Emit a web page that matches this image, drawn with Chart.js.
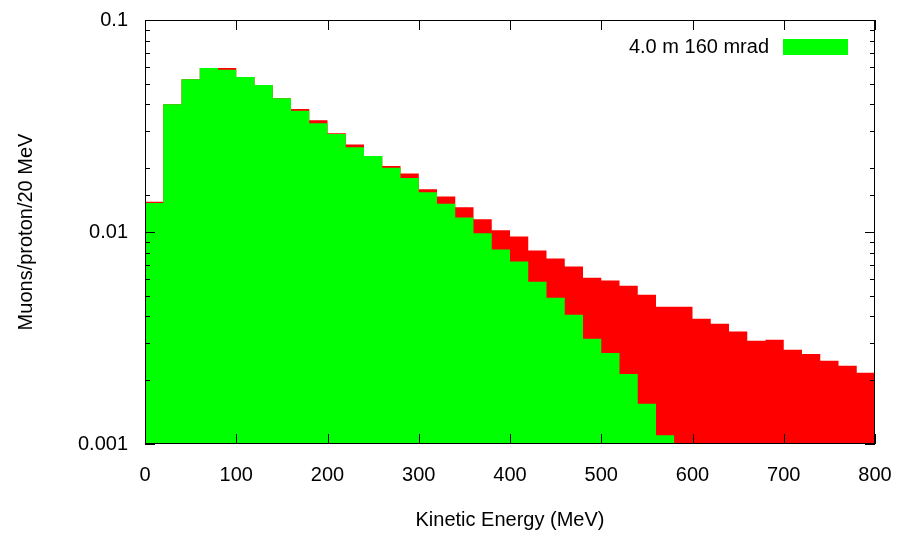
<!DOCTYPE html>
<html>
<head>
<title>Muon spectrum</title>
<style> body { margin: 0; background: #fff; } </style>
<script src="https://cdn.jsdelivr.net/npm/chart.js@4"></script>
</head>
<body>
<canvas id="muonChart" width="902" height="534"></canvas>
<script>
// bins are 20 MeV wide, starting at 0
let binWidth = 20;
let redValues = [0.0139, 0.0401, 0.0526, 0.0593, 0.0593, 0.0538, 0.0493, 0.0428, 0.0380, 0.0337,
                 0.0292, 0.0259, 0.0228, 0.0205, 0.0189, 0.0159, 0.0147, 0.0131, 0.0115, 0.0102,
                 0.00952, 0.00818, 0.00749, 0.00687, 0.00609, 0.00590, 0.00558, 0.00506, 0.00444, 0.00444,
                 0.00390, 0.00369, 0.00339, 0.00307, 0.00310, 0.00278, 0.00266, 0.00247, 0.00234, 0.00217];
let greenValues = [0.0137, 0.0401, 0.0526, 0.0593, 0.0582, 0.0538, 0.0493, 0.0428, 0.0373, 0.0326,
                   0.0290, 0.0251, 0.0228, 0.0201, 0.0180, 0.0154, 0.0136, 0.0117, 0.00987, 0.00827,
                   0.00725, 0.00583, 0.00490, 0.00407, 0.00314, 0.00269, 0.00214, 0.00155, 0.00110];
let legendLabel = '4.0 m 160 mrad';
let xTitle = 'Kinetic Energy (MeV)';
let yTitle = 'Muons/proton/20 MeV';
let yLabels = [0.001, 0.01, 0.1];

let font = { family: "'Liberation Sans', Arial, sans-serif", size: 20 };

function toSteps(values) {
  // one point on the left edge of each bin, plus one closing the last bin
  let pts = [];
  for (let i = 0; i < values.length; i++) pts.push({ x: i * binWidth, y: values[i] });
  pts.push({ x: values.length * binWidth, y: values[values.length - 1] });
  return pts;
}

function isDecade(v) {
  let l = Math.log10(v);
  return Math.abs(l - Math.round(l)) < 1e-9;
}

let frame = {
  id: 'frame',
  afterDatasetsDraw(chart) {
    let { ctx, chartArea: a, scales: { x, y } } = chart;
    ctx.save();
    ctx.strokeStyle = '#000';
    ctx.lineWidth = 1;
    ctx.beginPath();
    x.ticks.forEach(t => {
      let px = Math.round(x.getPixelForValue(t.value)) + 0.5;
      ctx.moveTo(px, a.bottom); ctx.lineTo(px, a.bottom - 10);
      ctx.moveTo(px, a.top); ctx.lineTo(px, a.top + 10);
    });
    y.ticks.forEach(t => {
      let len = isDecade(t.value) ? 10 : 5;
      let py = Math.round(y.getPixelForValue(t.value)) + 0.5;
      ctx.moveTo(a.left, py); ctx.lineTo(a.left + len, py);
      ctx.moveTo(a.right, py); ctx.lineTo(a.right - len, py);
    });
    ctx.stroke();
    ctx.strokeRect(a.left + 0.5, a.top + 0.5, a.width - 1, a.height - 1);

    // legend: text then colour box, top right
    ctx.font = font.size + 'px ' + font.family;
    ctx.fillStyle = '#000';
    ctx.textAlign = 'right';
    ctx.textBaseline = 'middle';
    ctx.fillText(legendLabel, a.right - 106, a.top + 27);
    ctx.fillStyle = '#00ff00';
    ctx.fillRect(a.right - 92, a.top + 19, 65, 16);
    ctx.restore();
  }
};

new Chart(document.getElementById('muonChart'), {
  type: 'line',
  data: {
    datasets: [{
      label: 'all',
      data: toSteps(redValues),
      stepped: 'before',
      fill: 'start',
      backgroundColor: '#ff0000',
      borderColor: 'rgba(0,0,0,0)',
      pointRadius: 0,
      order: 2
    }, {
      label: legendLabel,
      data: toSteps(greenValues),
      stepped: 'before',
      fill: 'start',
      backgroundColor: '#00ff00',
      borderColor: 'rgba(0,0,0,0)',
      pointRadius: 0,
      order: 1
    }]
  },
  options: {
    responsive: false,
    animation: false,
    events: [],
    layout: { padding: { top: 20, right: 27, left: 0, bottom: 0 } },
    plugins: { legend: { display: false }, tooltip: { enabled: false } },
    scales: {
      x: {
        type: 'linear', min: 0, max: 800,
        ticks: { stepSize: 100, color: '#000', font: font, padding: 19, maxRotation: 0 },
        grid: { display: false, drawTicks: false },
        border: { display: false },
        title: { display: true, text: xTitle, color: '#000', font: font, padding: { top: 0, bottom: 2 } },
        afterFit: s => { s.height = 90; s.paddingLeft = 0; s.paddingRight = 0; }
      },
      y: {
        type: 'logarithmic', min: 0.001, max: 0.1,
        ticks: {
          color: '#000', font: font, padding: 17, autoSkip: false,
          callback: v => yLabels.find(l => Math.abs(l - v) < l * 1e-6) !== undefined ? String(v) : ''
        },
        grid: { display: false, drawTicks: false },
        border: { display: false },
        title: { display: true, text: yTitle, color: '#000', font: font, padding: { top: 14, bottom: 0 } },
        afterFit: s => { s.width = 145; s.paddingTop = 0; s.paddingBottom = 0; }
      }
    }
  },
  plugins: [frame]
});
</script>
</body>
</html>
